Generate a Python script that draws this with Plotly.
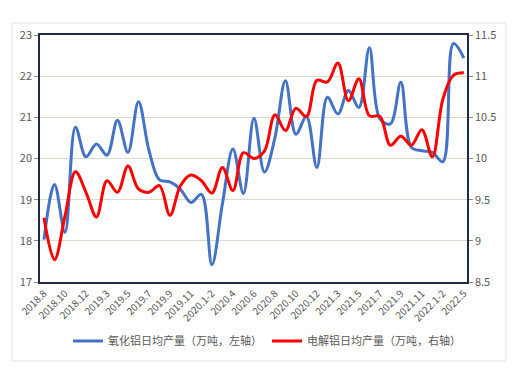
import plotly.graph_objects as go

categories = ["2018.8", "2018.9", "2018.10", "2018.11", "2018.12", "2019.1-2", "2019.3", "2019.4",
              "2019.5", "2019.6", "2019.7", "2019.8", "2019.9", "2019.10", "2019.11", "2019.12",
              "2020.1-2", "2020.3", "2020.4", "2020.5", "2020.6", "2020.7", "2020.8", "2020.9",
              "2020.10", "2020.11", "2020.12", "2021.1-2", "2021.3", "2021.4", "2021.5", "2021.6",
              "2021.7", "2021.8", "2021.9", "2021.10", "2021.11", "2021.12", "2022.1-2", "2022.3-4",
              "2022.5"]

alumina = [18.03, 19.37, 18.21, 20.76, 20.04, 20.35, 20.08, 20.93, 20.15, 21.38,
           20.2, 19.48, 19.43, 19.25, 18.93, 19.13, 17.42, 18.9, 20.23, 19.15,
           20.98, 19.67, 20.5, 21.89, 20.59, 21.02, 19.78, 21.49, 21.08, 21.65,
           21.24, 22.69, 20.96, 20.84, 21.85, 20.27, 20.19, 20.15, 19.92, 22.79,
           22.44]

electrolytic = [9.28, 8.77, 9.3, 9.84, 9.59, 9.29, 9.73, 9.59, 9.91, 9.63,
                9.59, 9.67, 9.31, 9.67, 9.80, 9.73, 9.58, 9.89, 9.61, 10.07,
                10.0, 10.09, 10.53, 10.34, 10.61, 10.51, 10.95, 10.93, 11.16, 10.70,
                10.97, 10.52, 10.51, 10.16, 10.27, 10.16, 10.35, 10.02, 10.72, 11.01,
                11.04]

name_alumina = "氧化铝日均产量（万吨，左轴）"
name_electro = "电解铝日均产量（万吨，右轴）"

tick_labels = categories[::2]

FONT = "Noto Sans CJK SC"
TXT = "#595959"
AX = "#1f2a44"

fig = go.Figure()
fig.add_trace(go.Scatter(x=categories, y=alumina, name=name_alumina, mode="lines",
                         line=dict(color="#4472C4", width=3, shape="spline", smoothing=1.0),
                         yaxis="y"))
fig.add_trace(go.Scatter(x=categories, y=electrolytic, name=name_electro, mode="lines",
                         line=dict(color="#FF0000", width=3, shape="spline", smoothing=1.0),
                         yaxis="y2"))

# page has 8px body margin; figure coordinates are page coordinates minus 8
OFF = 8
W, H = 517 - 2 * OFF, 385 - 2 * OFF
L, R, T, B = 40 - OFF, 467 - OFF, 35 - OFF, 282 - OFF
pw, ph = R - L, B - T

def px(x):
    return (x - OFF - L) / pw

def py(y):
    return (B - (y - OFF)) / ph

fig.update_layout(
    width=W, height=H,
    margin=dict(l=L, r=W - R, t=T, b=H - B, autoexpand=False),
    paper_bgcolor="white", plot_bgcolor="white",
    font=dict(family=FONT, size=10, color=TXT),
    showlegend=True,
    legend=dict(orientation="h", x=px(267), xanchor="center", y=py(341), yanchor="middle",
                font=dict(family=FONT, size=11, color=TXT), bgcolor="rgba(0,0,0,0)",
                itemwidth=30, tracegroupgap=0),
    xaxis=dict(type="category", range=[-0.38, 40.3], tickmode="array",
               tickvals=tick_labels, ticktext=tick_labels, tickangle=-45,
               showgrid=False, showline=True, linecolor=AX, linewidth=1.5, mirror=True,
               ticks="", tickfont=dict(family=FONT, size=10, color=TXT), zeroline=False),
    yaxis=dict(range=[17, 23], dtick=1, tick0=17, showgrid=True, gridcolor="#d9dccb",
               gridwidth=1, showline=True, linecolor=AX, linewidth=1.5,
               ticks="outside", ticklen=4, tickcolor="#8c8c8c",
               tickfont=dict(family=FONT, size=11, color=TXT), zeroline=False),
    yaxis2=dict(range=[8.5, 11.5], dtick=0.5, tick0=8.5, overlaying="y", side="right",
                showgrid=False, showline=True, linecolor=AX, linewidth=1.5,
                ticks="outside", ticklen=4, tickcolor="#8c8c8c",
                tickfont=dict(family=FONT, size=11, color=TXT), zeroline=False),
    shapes=[dict(type="rect", xref="paper", yref="paper",
                 x0=px(12), x1=px(506), y0=py(361), y1=py(23),
                 line=dict(color="#e3e3e3", width=1), fillcolor="rgba(0,0,0,0)", layer="below")],
)

fig.write_html("out.html")
